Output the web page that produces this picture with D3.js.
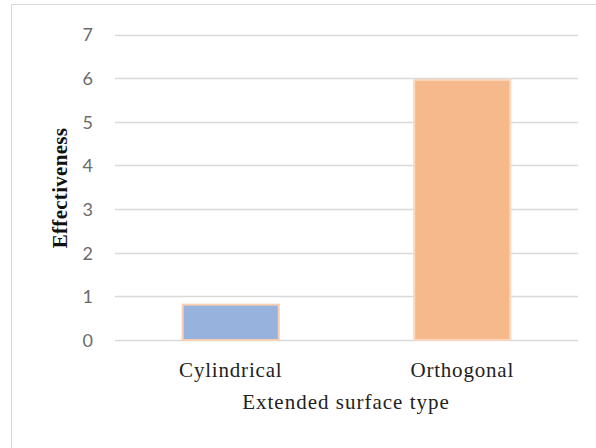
<!DOCTYPE html>
<html>
<head>
<meta charset="utf-8">
<script src="https://cdn.jsdelivr.net/npm/d3@7"></script>
<style>
  html, body { margin: 0; padding: 0; background: #fff; }
  svg { display: block; }
</style>
</head>
<body>
<svg id="chart" width="596" height="448"></svg>
<script>
// Effectiveness by extended surface type
const categories = ["Cylindrical", "Orthogonal"];
const values = [0.81, 5.96];
const yTicks = [0, 1, 2, 3, 4, 5, 6, 7];
const fills = ["#97b2dc", "#f5b98b"];
const strokes = ["#f9cfb1", "#fbd8bf"];

const svg = d3.select("#chart");

// outer frame
svg.append("rect")
  .attr("x", 11.5).attr("y", 4.5)
  .attr("width", 600).attr("height", 460)
  .attr("fill", "#fff").attr("stroke", "#d9d9d9").attr("stroke-width", 1);

const plot = { left: 115, right: 578, top: 34.5, bottom: 340 };
const serif = "'Liberation Serif', 'Times New Roman', serif";

const x = d3.scaleBand()
  .domain(categories)
  .range([plot.left, plot.right])
  .paddingInner(0.585)
  .paddingOuter(0.2925);

const y = d3.scaleLinear()
  .domain([0, 7])
  .range([plot.bottom, plot.top]);

// gridlines
svg.append("g")
  .selectAll("line")
  .data(yTicks)
  .join("line")
  .attr("x1", plot.left).attr("x2", plot.right)
  .attr("y1", d => Math.round(y(d)) + 0.5)
  .attr("y2", d => Math.round(y(d)) + 0.5)
  .attr("stroke", "#d9d9d9").attr("stroke-width", 1.5);

// y tick labels
const yAxis = d3.axisLeft(y).tickValues(yTicks).tickFormat(d3.format("d"))
  .tickSize(0).tickPadding(0);
const gy = svg.append("g")
  .attr("transform", `translate(${plot.left - 22},0)`)
  .call(yAxis);
gy.select(".domain").remove();
gy.selectAll("text")
  .attr("dy", "0.36em")
  .attr("font-family", "Lato, 'Open Sans', sans-serif")
  .attr("font-size", 18)
  .attr("fill", "#6b6b6b");

// bars
svg.append("g")
  .selectAll("rect")
  .data(categories)
  .join("rect")
  .attr("x", d => x(d))
  .attr("width", x.bandwidth())
  .attr("y", (d, i) => y(values[i]))
  .attr("height", (d, i) => y(0) - y(values[i]))
  .attr("fill", (d, i) => fills[i])
  .attr("stroke", (d, i) => strokes[i])
  .attr("stroke-width", 2);

// category labels
const xAxis = d3.axisBottom(x).tickSize(0).tickPadding(0);
const gx = svg.append("g")
  .attr("transform", `translate(0,${plot.bottom + 37})`)
  .call(xAxis);
gx.select(".domain").remove();
gx.selectAll("text")
  .attr("dy", 0)
  .attr("font-family", serif)
  .attr("font-size", 21)
  .attr("letter-spacing", "0.8px")
  .attr("fill", "#222");

// axis titles
svg.append("text")
  .attr("x", 346)
  .attr("y", 409)
  .attr("text-anchor", "middle")
  .attr("font-family", serif)
  .attr("font-size", 21)
  .attr("letter-spacing", "1px")
  .attr("fill", "#222")
  .text("Extended surface type");

svg.append("text")
  .attr("transform", `translate(67,188) rotate(-90)`)
  .attr("text-anchor", "middle")
  .attr("font-family", serif)
  .attr("font-size", 21)
  .attr("font-weight", "bold")
  .attr("letter-spacing", "0.3px")
  .attr("fill", "#111")
  .text("Effectiveness");
</script>
</body>
</html>
